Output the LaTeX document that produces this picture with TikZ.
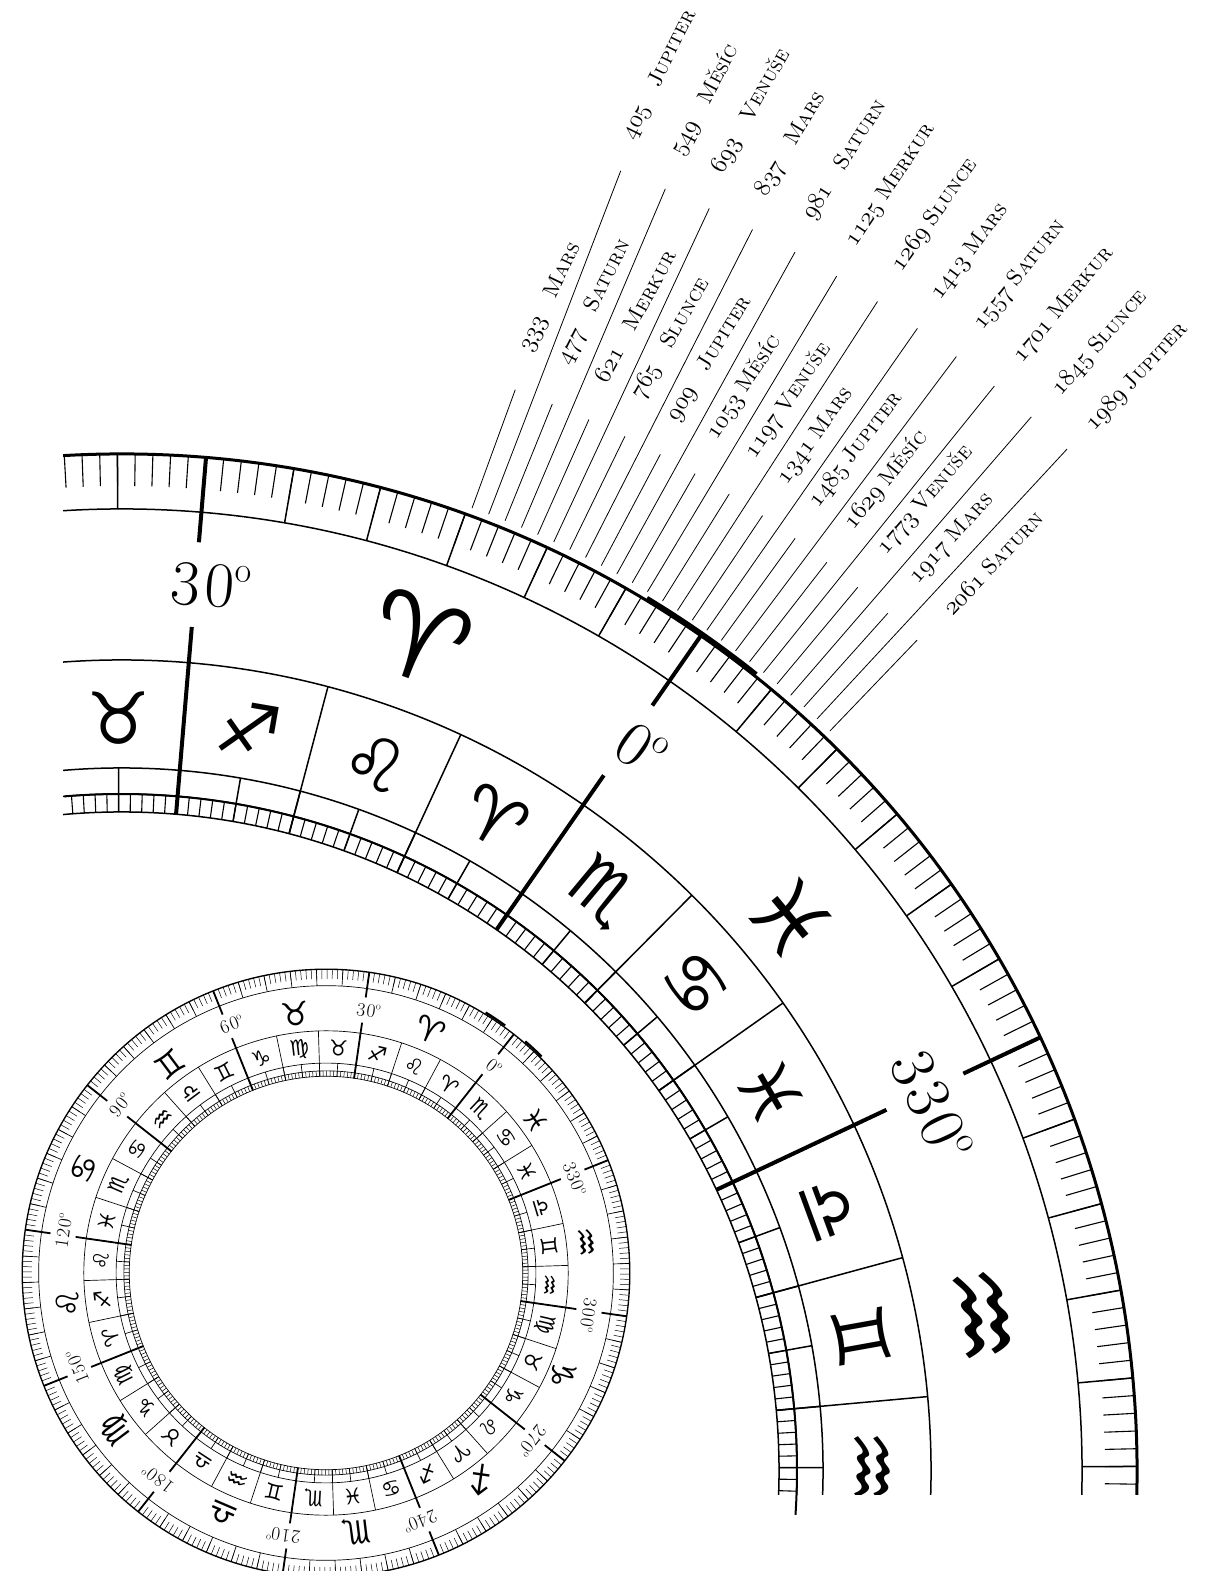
\documentclass[tikz,border=0pt]{standalone}
\usepackage{fontspec}
\newfontfamily\zodiacfont{DejaVu Sans}
\newfontfamily\degreefont{Latin Modern Roman}[LetterSpace=7]
\newcommand{\yearnum}[1]{{\fontencoding{OML}\fontfamily{cmm}\fontseries{m}\fontshape{it}\fontsize{25}{25}\selectfont #1}}

\def\lwf{1}
\tikzset{
  rimline/.style={line width=3pt*\lwf},
  ringline/.style={line width=1.5pt*\lwf},
  tickline/.style={line width=1.1pt*\lwf},
  degreeline/.style={line width=4pt*\lwf},
  markarc/.style={line width=5pt*\lwf},
  pointerline/.style={line width=0.8pt},
  glyphlabel/.style={inner sep=0pt},
  degreelabel/.style={font=\degreefont\fontsize{64}{64}\selectfont,inner sep=0pt},
  yearlabel/.style={font=\fontsize{22}{22}\selectfont,inner sep=0pt}
}

\newcommand{\zodiacdial}[2]{%
  \foreach \r/\s in {1016/rimline,961/ringline,810/ringline,702/ringline,676/ringline,658/ringline}
    \draw[\s] (0,0) circle(\r);
  \foreach \a in {0,...,359} {
    \draw[tickline] (\a:984) -- (\a:1016);
    \draw[tickline] (\a:658) -- (\a:676);
  }
  \foreach \a in {0,5,...,355} {
    \draw[ringline] (\a:961) -- (\a:1016);
    \draw[ringline] (\a:658) -- (\a:702);
  }
  \foreach \a in {0,10,...,350}
    \draw[ringline] (\a:658) -- (\a:810);
  \foreach \a in {0,30,...,330} {
    \draw[degreeline] (\a:931) -- (\a:1016);
    \draw[degreeline] (\a:658) -- (\a:846);
  }
  \foreach \a in {#2}
    \node[degreelabel,rotate=\a-90] (#1deg\a) at (\a-1:889)
      {\a\raisebox{0.42em}{\fontsize{36}{36}\selectfont o}};
  % decans
  \foreach \a/\g/\r/\z in {5/♈/752/72,15/♌/752/72,25/♐/752/72,35/♉/752/72,45/♍/752/72,55/♑/752/72,
                     65/♊/752/72,75/♎/752/72,85/♒/745/84,95/♋/752/72,105/♏/752/72,115/♓/752/72,
                     125/♌/752/72,135/♐/752/72,145/♈/752/72,155/♍/752/72,165/♑/752/72,175/♉/752/72,
                     185/♎/752/72,195/♒/745/84,205/♊/752/72,215/♏/752/72,225/♓/752/72,235/♋/752/72,
                     245/♐/752/72,255/♈/752/72,265/♌/752/72,275/♑/752/72,285/♉/752/72,295/♍/752/72,
                     305/♒/745/84,315/♊/752/72,325/♎/752/72,335/♓/752/72,345/♋/752/72,355/♏/752/72}
    \node[glyphlabel,rotate=\a-90] (#1cell\a) at (\a:\r) {\zodiacfont\fontsize{\z}{\z}\selectfont\g};
  % signs
  \foreach \a/\g/\r/\z in {15/♈/883/112,45/♉/873/108,75/♊/873/108,105/♋/880/108,135/♌/870/108,165/♍/875/108,
                     195/♎/870/108,225/♏/870/108,255/♐/865/108,285/♑/860/108,315/♒/868/114,344.3/♓/868/90}
    \node[glyphlabel,rotate=\a-90] (#1sign\a) at (\a:\r) {\zodiacfont\fontsize{\z}{\z}\selectfont\g};
}

\begin{document}
\begin{tikzpicture}[x=1pt,y=1pt]

\useasboundingbox (0,0) rectangle (1214,1571);

\begin{scope}

\clip (63,76) rectangle (1214,1571); % recorte del dial grande
\begin{scope}[shift={(121,101)},rotate=55.2,transform shape]
  \zodiacdial{big}{0,30,330}
\end{scope}

\end{scope}

\begin{scope}[shift={(121,101)}]

\draw[ringline,line width=2pt] (94.8:676) arc[start angle=94.8,end angle=-3.8,radius=676];
\draw[markarc] (58.9:1018) arc[start angle=58.9,end angle=51.4,radius=1018]; % marca en 0

\foreach \n/\t/\lx/\ly [count=\k from 0] in {
    333/Mars/551/1274, 405/Jupiter/660/1496, 477/Saturn/595/1269, 549/Měsíc/705/1471,
    621/Merkur/635/1255, 693/Venuše/751/1460, 765/Slunce/671/1232, 837/Mars/791/1427,
    909/Jupiter/710/1212, 981/Saturn/845/1411, 1053/Měsíc/744/1184, 1125/Merkur/891/1386,
    1197/Venuše/788/1170, 1269/Slunce/935/1356, 1341/Mars/816/1135, 1413/Mars/970/1319,
    1485/Jupiter/856/1121, 1557/Saturn/1020/1296, 1629/Měsíc/886/1091, 1701/Merkur/1064/1266,
    1773/Venuše/925/1071, 1845/Slunce/1100/1228, 1917/Mars/952/1032, 1989/Jupiter/1137/1194,
    2061/Saturn/993/1008} {
  \pgfmathsetmacro{\ray}{69.95-0.99*\k}
  \pgfmathsetmacro{\rayend}{isodd(\k)?1392:1150}
  \pgfmathsetmacro{\tilt}{64.5-0.75*\k}
  \draw[pointerline] (\ray:1024) -- (\ray:\rayend);
  \node[yearlabel,rotate=\tilt] (lab\n) at (\lx-121,\ly-101)
    {\yearnum{\n}\ifnum\n<1000\quad\else\ \fi\textsc{\t}};
}

\end{scope}

\def\lwf{0.45}
\begin{scope}[shift={(326,298)},rotate=51.8,scale=0.299,transform shape]
  \zodiacdial{small}{0,30,60,90,120,150,180,210,240,270,300,330}
  \draw[markarc] (6.7:1022) arc[start angle=6.7,end angle=2.3,radius=1022];
  \draw[markarc] (-2.5:1022) arc[start angle=-2.5,end angle=-6.7,radius=1022];
\end{scope}

\end{tikzpicture}
\end{document}
